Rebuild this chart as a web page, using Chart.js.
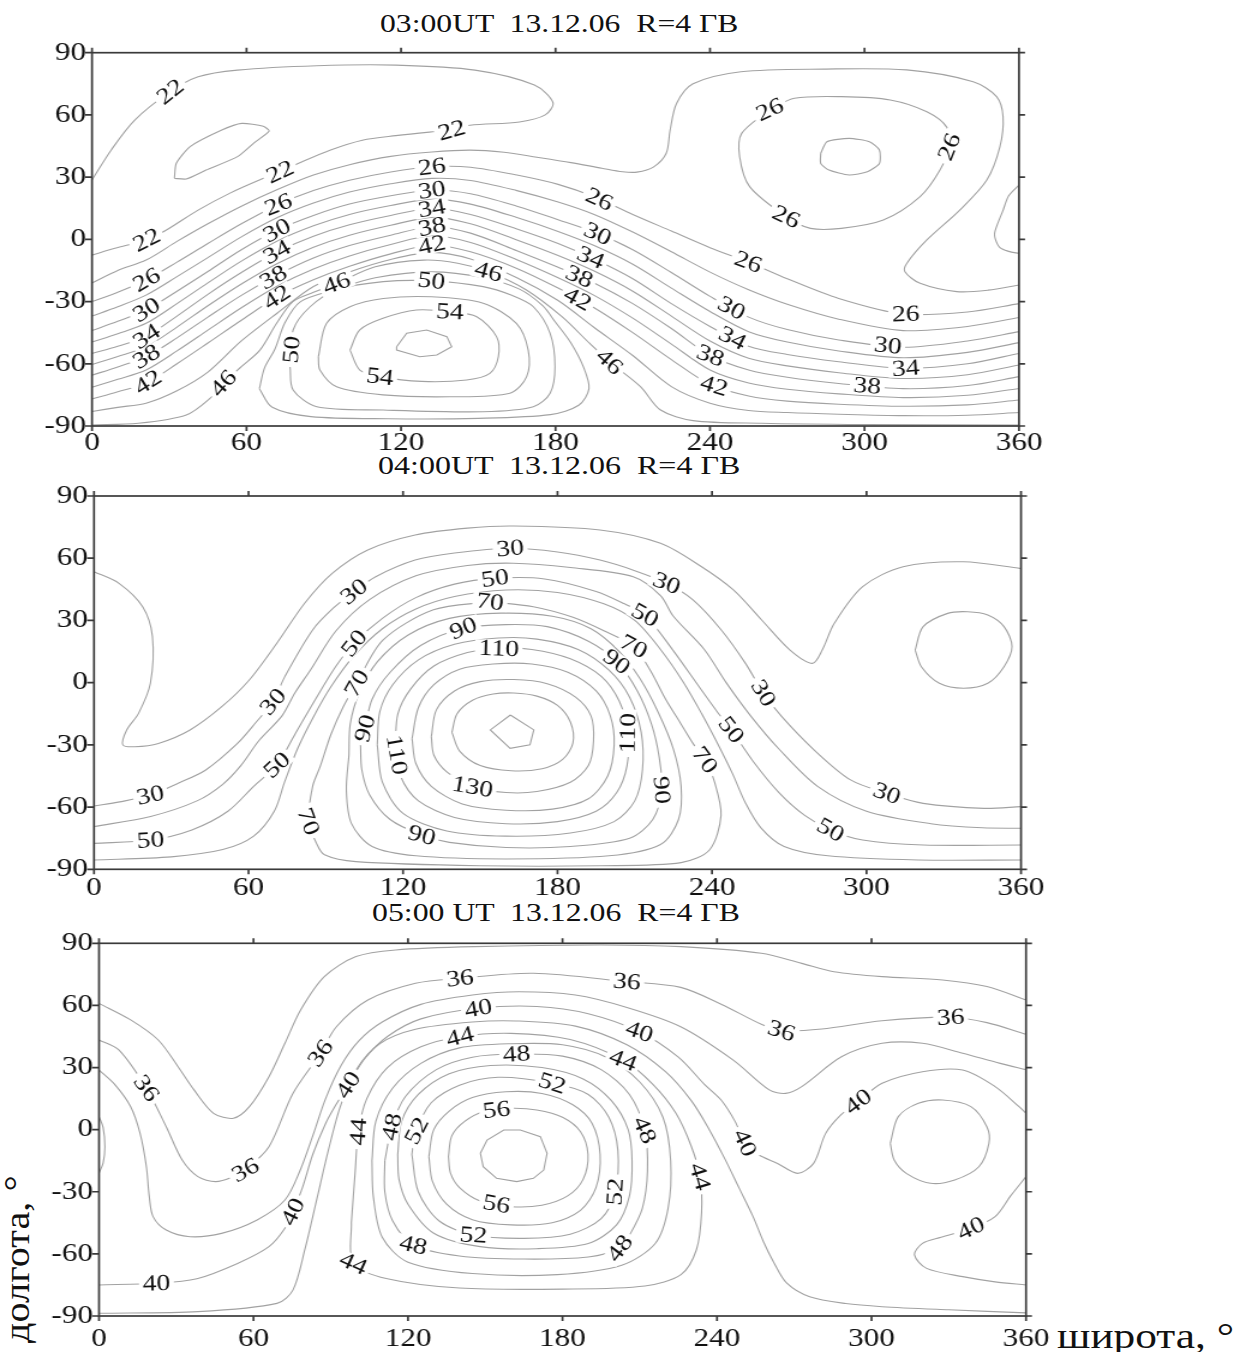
<!DOCTYPE html>
<html>
<head>
<meta charset="utf-8">
<script src="https://cdn.jsdelivr.net/npm/chart.js@4.4.0/dist/chart.umd.min.js"></script>
<style>
  html, body { margin: 0; padding: 0; background: #fff; }
  body { width: 1234px; height: 1352px; position: relative; overflow: hidden; }
  canvas { position: absolute; left: 0; }
  .txt { position: absolute; font-family: "Liberation Serif", "Times New Roman", serif; color: #111;
         white-space: pre; line-height: 1; transform-origin: 0 0; }
</style>
</head>
<body>
<div class="txt" id="title1" style="left:380px;top:11px;font-size:26px">03:00UT  13.12.06  R=4 ГВ</div>
<div class="txt" id="title2" style="left:378px;top:453px;font-size:26px">04:00UT  13.12.06  R=4 ГВ</div>
<div class="txt" id="title3" style="left:372px;top:900px;font-size:26px">05:00 UT  13.12.06  R=4 ГВ</div>
<div class="txt" id="xTitle" style="left:1057px;top:1318px;font-size:36px">широта, °</div>
<div class="txt" id="yTitle" style="left:0px;top:1343px;font-size:35px">долгота, °</div>

<canvas id="panel1" width="1028" height="460" style="top:0px;width:1234px;height:460px"></canvas>
<canvas id="panel2" width="1028" height="460" style="top:455px;width:1234px;height:460px"></canvas>
<canvas id="panel3" width="1028" height="447" style="top:905px;width:1234px;height:447px"></canvas>

<script>
// ---- axis ticks ----
const lonTicks = [0, 60, 120, 180, 240, 300, 360];
const latTicks = [-90, -60, -30, 0, 30, 60, 90];

// ---- 03:00 UT contours, [longitude, latitude] ----
const p1_20 = [[32,29.4],[36.6,29.1],[44.3,33.4],[56.5,39.9],[62.7,46.3],[68.8,52.2],[66.5,54.5],[58.1,55.9],[50.4,52.7],[38.1,44.7],[32.7,36.6],[32,29.4]];
const p1_22a = [[0,28.6],[7.4,43],[16.6,57.5],[30.4,71.2],[41.2,78.4],[56.5,81.6],[87.3,83.7],[118,84],[148.7,81.6],[171.8,74.4],[179,66],[176,60],[166,56.6],[146.8,55],[139.7,52.6],[131,51.7],[118,50],[105,47.8],[92.4,43],[81.4,37.3],[73,32.5],[65,28.6],[53.6,22.3],[41.2,14.1],[28.9,4.5],[21.2,-0.3],[8.9,-4.3],[0,-7.6]];
const p1_22b = [[360,26.2],[356,21],[353.8,14],[350.7,4],[350.7,0.6],[352.6,-4],[356,-5.8],[360,-6.8]];
const p1_24 = [[0,-21],[10,-15],[21,-10],[33,-1],[45,7.5],[58,16],[72,24],[86,31],[100,36],[116,40],[132,42.1],[146.8,43],[160,42],[172.8,39.6],[186,37],[198,34.3],[206,32.6],[211.6,32.4],[218,34.8],[223,41.5],[224.5,52.6],[227,65.5],[233.4,75],[252,80.8],[284,82.1],[316.4,81.7],[342.2,76],[351.3,68.8],[353.8,59.1],[352.6,44.7],[347.5,28.6],[337,14.1],[324.2,-0.3],[316.4,-11.6],[315.7,-15.6],[321.6,-21.2],[335.8,-25.2],[348,-24.5],[360,-22]];
const p1_26 = [[0,-30],[10,-25.5],[21,-19.6],[33,-11],[45,-2],[58,7.5],[72,16.6],[86,23.5],[100,28.5],[116,32.5],[132,35],[147,34.8],[165,31],[181,26.5],[195,20.5],[210,12],[225,4],[240,-4],[255,-11],[270,-19],[290,-28.5],[315,-36],[340,-35],[360,-31]];
const p1_26loop = [[263,62.4],[272.8,68],[291,68.8],[310,67.2],[324.2,61.5],[332,54],[333,45],[329.3,33.4],[321.6,20.6],[307.3,9.3],[291,5.3],[279,5.3],[269.6,10.9],[255.4,25.4],[251.5,39.9],[252.3,51.1],[263,62.4]];
const p1_28loop = [[283,41.5],[285.4,47.1],[294,48.7],[301.9,47.1],[305.8,43.1],[305.8,36.6],[301.1,32.6],[294,31],[286.2,33.4],[283,36.6],[283,41.5]];
const p1_28 = [[0,-37],[10,-32.5],[21,-26.9],[33,-18],[45,-8.8],[58,1.2],[72,10.5],[86,17.5],[100,22.8],[116,26.8],[132,29.4],[147,28.4],[165,23.5],[181,18],[195,12],[210,3.5],[225,-6],[240,-15.8],[255,-24.3],[270,-31.3],[290,-38.5],[315,-44],[340,-42],[360,-37.7]];
const p1_30 = [[0,-44],[10,-39.5],[21,-34.1],[33,-25],[45,-15.5],[58,-5],[72,4.5],[86,11.5],[100,17],[116,21],[132,23.8],[147,22],[165,16],[181,9.5],[195,3.5],[210,-5],[225,-16],[240,-27.5],[255,-37.5],[270,-43.5],[290,-48.5],[315,-52],[340,-49],[360,-44.5]];
const p1_32 = [[0,-49.5],[10,-45.5],[21,-40.5],[33,-31],[45,-21],[58,-10.5],[72,-0.8],[86,6.5],[100,12],[116,16.3],[132,19.4],[147,17],[165,10.5],[181,3.8],[195,-3],[210,-12],[225,-23.5],[240,-34.8],[255,-44.5],[270,-49.5],[290,-53.8],[315,-57.1],[340,-54.5],[360,-49.8]];
const p1_34 = [[0,-55],[10,-51.5],[21,-46.9],[33,-37],[45,-26.5],[58,-16],[72,-6],[86,1.5],[100,7],[116,11.5],[132,15],[147,12],[165,5],[181,-2],[195,-9.5],[210,-19],[225,-31],[240,-42],[255,-51.5],[270,-55.5],[290,-59],[315,-62.2],[340,-60],[360,-55]];
const p1_36 = [[0,-60.3],[10,-56.5],[21,-51.8],[33,-42.3],[45,-32],[58,-21.5],[72,-11.6],[86,-3.8],[100,2],[116,6.8],[132,10.6],[147,7.5],[165,-0.3],[181,-7.8],[195,-15.3],[210,-25],[225,-37],[240,-49],[255,-57.3],[270,-61],[290,-64.3],[315,-67.1],[340,-65.3],[360,-60.6]];
const p1_38 = [[0,-65.5],[10,-61.5],[21,-56.6],[33,-47.5],[45,-37.5],[58,-27],[72,-17.2],[86,-9],[100,-3],[116,2],[132,6.1],[147,3],[165,-5.5],[181,-13.5],[195,-21],[210,-31],[225,-43],[240,-56],[255,-63],[270,-66.5],[290,-69.5],[315,-72],[340,-70.5],[360,-66.2]];
const p1_40 = [[0,-71.3],[10,-67.5],[21,-63],[33,-53.8],[45,-43.8],[58,-33],[72,-22.5],[86,-14.3],[100,-8],[116,-2.5],[132,1.7],[147,-1.5],[165,-9.8],[181,-18.5],[195,-27],[210,-38],[225,-50.5],[240,-63],[255,-69.3],[270,-72.3],[290,-74.5],[315,-76.3],[340,-75.2],[360,-71.9]];
const p1_42 = [[0,-77],[10,-73.5],[21,-69.4],[33,-60],[45,-50],[58,-39],[72,-27.7],[86,-19.5],[100,-13],[116,-7],[132,-2.7],[147,-6],[165,-14],[181,-23.5],[195,-33],[210,-45],[225,-58],[240,-70],[255,-75.5],[270,-78],[290,-79.5],[315,-80.5],[340,-79.8],[360,-77.5]];
const p1_44 = [[0,-83],[10,-81],[21,-79],[33,-73],[45,-64],[58,-49],[72,-35.5],[86,-22.7],[100,-15.7],[116,-9.7],[132,-6.3],[147,-9.5],[165,-18.5],[181,-29.5],[195,-42.5],[210,-56],[225,-71],[240,-79],[255,-82.5],[270,-83.5],[290,-84.3],[315,-85],[340,-84.8],[360,-83.5]];
const p1_46 = [[0,-89.5],[18,-88.7],[36.6,-84.7],[45.8,-76.7],[51,-69.4],[58,-61.4],[65.2,-53.4],[71.7,-40.5],[78,-30],[86,-25.5],[95,-21.2],[110,-13.2],[128.8,-10],[142,-11.5],[154,-15.6],[168.7,-24.4],[182.5,-37.3],[193.3,-50.2],[201,-59],[213,-71],[220.8,-82.3],[233.4,-87.4],[260,-88.7],[300,-89.3],[360,-89.5]];
const p1_48 = [[65,-72],[67,-62],[71,-53],[75,-40],[81,-30],[95,-24],[110,-18.5],[132,-15.7],[152,-18.5],[166,-24],[175,-32],[180,-40],[186,-50],[191,-62],[193,-72],[189,-80],[178,-84.5],[150,-86.3],[115,-86.5],[85,-85.5],[70,-81],[65,-72]];
const p1_50 = [[76.9,-61.4],[78.1,-43.7],[84.7,-32.5],[95,-24.4],[113.1,-20.4],[131.8,-20],[151.9,-22.8],[163,-27],[171.4,-32.5],[177.9,-45.3],[179.8,-61.4],[177.9,-74.2],[171.4,-80.7],[151.9,-83.1],[113.1,-82.3],[87.3,-80.7],[78.1,-72.6],[76.9,-61.4]];
const p1_52 = [[87.9,-56.6],[91.1,-40.5],[100.2,-32.5],[113.1,-28.5],[131.8,-27.7],[151.9,-30.8],[164.8,-40.5],[169.4,-53.4],[168.8,-66.2],[162.3,-74.2],[139,-75.9],[113,-75],[95,-71.1],[88.5,-63],[87.9,-56.6]];
const p1_54 = [[100.2,-53.4],[104,-43.7],[113,-38.1],[126,-34.1],[139,-34.9],[149.4,-37.3],[157.1,-46.9],[157.8,-56.6],[154.5,-64.6],[145.5,-67.8],[128,-68.5],[111.8,-66.2],[104,-63],[100.2,-53.4]];
const p1_56 = [[118.3,-51.8],[122.2,-45.3],[130,-43.7],[137.8,-46.9],[139.7,-51.8],[133.9,-55.8],[127.3,-56.6],[118.3,-53.4],[118.3,-51.8]];
// label anchors: [level, longitude, latitude]
const p1Labels = [
  [22,30.4,71.2],[22,139.7,52.6],[22,73,32.5],[22,21.2,-0.3],
  [26,21.2,-19.6],[26,72.4,16.6],[26,132,35],[26,197.2,19.8],[26,254.6,-11.6],[26,316,-36.5],
  [26,263.3,62.4],[26,332.6,44.7],[26,269.6,10.9],
  [30,21.2,-34.1],[30,71.7,4.5],[30,132,23.8],[30,196.5,3],[30,248.3,-33.3],[30,309,-51.8],
  [34,21.2,-46.9],[34,71.7,-6],[34,132,15],[34,193.3,-10],[34,248.3,-48.5],[34,316,-62.2],
  [38,21.2,-56.6],[38,69.8,-17.2],[38,132,6.1],[38,189.5,-17.2],[38,239.7,-57.4],[38,301,-71.8],
  [42,22,-69.4],[42,71.7,-27.7],[42,132,-2.7],[42,188.7,-28.5],[42,241.3,-71.8],
  [46,51,-69.4],[46,95,-21.2],[46,154,-15.6],[46,201,-59],
  [50,131.8,-20.4],[50,79.5,-53.4],
  [54,139,-34.9],[54,111.8,-66.2]
];

// ---- 04:00 UT contours ----
const p2_20a = [[0,53.5],[9.7,47.9],[18.9,36.6],[22.7,22.2],[21.9,-0.3],[17.3,-14.8],[12.7,-22.8],[11.2,-30],[15.8,-30.9],[25,-29.3],[37.3,-22.8],[49.6,-11.6],[60.3,1.3],[71,19],[81.8,38.3],[92.5,52.7],[106.3,64],[124.7,71.2],[145,74.5],[163,75.5],[196.5,73.6],[220,67.2],[235.8,56],[248.3,44.7],[259.3,30.2],[270.3,15.7],[279,9.3],[282.8,15.7],[287.5,28.6],[298.5,46.3],[314.2,55.9],[337.7,58.3],[360,55]];
const p2_20b = [[318.9,15.7],[322,27],[331.5,33.4],[339.3,34.2],[347.1,32.6],[353.4,27],[356.5,17.4],[353.4,7.7],[347.1,-0.3],[337.7,-2.7],[328.3,-0.3],[321.3,7.7],[318.9,15.7]];
const p2_30 = [[0,-59.5],[10,-57.5],[21.9,-54.2],[32.7,-48.5],[43.4,-42.1],[55.7,-29.3],[63,-19],[69.5,-9.2],[74.1,2.9],[84.9,25.4],[93,36],[101,43.9],[109.4,51.1],[124.7,59.1],[140,62.5],[161.6,64.8],[180,63],[196.5,59.1],[210,54],[222.4,47.9],[232.6,39.9],[243.6,25.4],[253,9.3],[260,-5.1],[267.1,-16.4],[279.7,-32.5],[293.8,-46.9],[307.9,-53.4],[322,-58.2],[345.6,-60.6],[360,-59.8]];
const p2_40 = [[0,-69.4],[22,-64.5],[40,-57],[50,-49],[57,-40],[64,-28],[73,-16],[78,-5],[84,6],[94,25],[107,40],[125,51.5],[145,56.5],[162.8,57.6],[185,55.5],[209.4,51.1],[220,42],[225,32],[237,16],[245.5,0],[255,-16],[266,-32],[281,-50],[300,-62],[325,-68],[345,-70],[360,-70.2]];
const p2_50 = [[0,-77.5],[21.9,-75.9],[38,-71],[52,-62],[62,-50],[71,-39.7],[78,-25],[86,-8],[94,8],[101,19],[112,31],[125,41],[140,47.5],[155.7,50.3],[175,50],[195,44],[206,38],[214,32.6],[224.8,15.7],[235,-2],[242,-14],[247.5,-22.8],[256,-38],[266,-53],[276,-64],[286,-71],[298.5,-75.9],[322,-78.3],[360,-78.3]];
const p2_60 = [[0,-85.5],[30,-84],[50,-80.5],[62,-74],[70,-62],[74,-48],[79,-32],[85,-17],[92,-2],[101,13],[112,26],[125,35.5],[140,41.5],[160,44.7],[180,43.5],[198,38],[210,30],[220,16],[229,0],[236,-15],[242,-29],[248,-44],[253,-58],[259,-70],[268,-79],[285,-83.5],[320,-85.5],[360,-85.5]];
const p2_70 = [[153.8,39],[170.6,36.6],[186,31.5],[198,25],[209.6,17.4],[216,6],[222,-8],[228,-20],[233,-30],[237.3,-37.3],[241,-48],[243.5,-64],[239,-80.7],[228,-86.8],[196.5,-88.3],[150,-88.3],[101.7,-86.3],[89.5,-83],[86.4,-77.5],[83.3,-67],[84.9,-50],[87.8,-40.5],[92,-25],[96.8,-11.6],[102,-0.3],[112.3,20.6],[131.8,35.1],[153.8,39]];
const p2_80 = [[99,-35],[99.5,-20],[103,-5],[110,10],[122,23],[138,31],[158,33.5],[178,32],[193,26],[204,15],[212,2],[219,-14],[225,-32],[228,-50],[227,-66],[220,-78],[200,-83.5],[160,-85],[125,-83.5],[108,-79],[100,-68],[98,-52],[99,-35]];
const p2_90 = [[103.5,-30],[105.2,-22],[108,-8],[115,5],[127,18],[143.4,26.2],[160,28],[176,27],[192,20],[203,10.1],[211,-4],[216.5,-20],[219.5,-36],[220.5,-51.8],[217,-66],[208,-75],[185,-79],[160,-79.5],[138,-77],[127.3,-73.5],[115,-66],[107,-54],[104,-42],[103.5,-30]];
const p2_100 = [[110,-30],[111,-14],[116,-1],[126,11],[140,18.5],[157,21.5],[172,21],[188,16],[200,6],[208,-7],[212.5,-24],[213,-42],[210,-57],[202,-67],[185,-72.5],[160,-74],[137,-71.5],[120,-63],[112,-48],[110,-30]];
const p2_110 = [[117,-30],[118,-15],[123,-3],[132,8],[145,14.5],[157,16.5],[170,16],[185,11.5],[197,3],[204,-9],[207.3,-24],[207,-40],[203,-53],[195,-62],[180,-67],[160,-68],[140,-65],[126,-57],[119,-45],[117,-30]];
const p2_120 = [[123.5,-27],[126,-12],[132,-1],[142,6.5],[155,9],[170,9],[184,5],[195,-4],[200.5,-16],[202,-30],[199.5,-45],[192,-56],[178,-61],[160,-61.5],[143,-58.5],[131,-50],[125,-39],[123.5,-27]];
const p2_130 = [[131,-26],[133,-13],[140,-4],[150,0.5],[163,1.5],[176,-0.5],[187,-7],[193,-16],[194,-28],[192,-40],[185,-48],[172,-52.5],[160,-53],[147,-50.2],[137,-43],[132,-35],[131,-26]];
const p2_140 = [[139,-24],[141,-15],[147,-8.5],[155,-5.5],[163,-5],[172,-6.5],[180,-11],[185,-19],[186,-29],[182,-37],[174,-41.5],[162,-42.5],[150,-40],[142,-33],[139,-24]];
const p2_150 = [[161.7,-15.6],[170.8,-22.8],[169.3,-30],[161.6,-31.7],[153.9,-22.8],[161.7,-15.6]];
const p2Labels = [
  [30,101,43.9],[30,69.5,-9.2],[30,21.9,-54.2],[30,161.6,64.8],[30,222.4,47.9],[30,260,-5.1],[30,307.9,-53.4],
  [50,21.9,-75.9],[50,71,-39.7],[50,101,19],[50,155.7,50.3],[50,214,32.6],[50,247.5,-22.8],[50,286,-71],
  [70,102,-0.3],[70,83.3,-67],[70,153.8,39],[70,209.6,17.4],[70,237.3,-37.3],
  [90,143.4,26.2],[90,203,10.1],[90,105.2,-22],[90,220.5,-51.8],[90,127.3,-73.5],
  [110,157.2,16.5],[110,117,-34.9],[110,207.1,-24.4],
  [130,147,-50.2]
];

// ---- 05:00 UT contours ----
const p3_34 = [[0,61],[12.3,53],[23,43.3],[30.7,30.4],[36.9,19.2],[44.5,7.9],[52.2,5.5],[58.4,11.1],[66,25.6],[72.2,41.7],[78.3,57.8],[87.5,73.9],[99.8,83.6],[115.2,86.8],[145.9,88.4],[194.6,89.2],[226,88.4],[257.2,85.2],[272.9,80.3],[285.4,76.3],[304.1,73.9],[327.6,72.3],[344.8,69.1],[360,62.6]];
const p3_36 = [[0,43.3],[7.7,38.5],[18.4,20],[26.1,1.4],[32.3,-14.7],[38.4,-22.7],[45.3,-25.1],[52.2,-22.7],[56.8,-19.5],[66,-8.2],[75.3,17.5],[86,36.9],[92.2,49.7],[104.4,62.6],[122.9,70.7],[140.2,73.1],[168.7,75.5],[205,71.5],[225.9,68.7],[241.6,60.6],[257.2,50.9],[265,47.8],[280.7,48.6],[304.1,52.6],[330.7,54.3],[344.8,51.7],[360,46.1]];
const p3_38 = [[0,28.8],[6,22],[12.3,11.1],[16,-2],[18.4,-17.9],[19.5,-32],[21,-42],[26.1,-48.5],[35.3,-51.7],[47.6,-50.1],[61.4,-43.6],[72.2,-34],[78,-20],[83,-3],[88,15],[94,31],[101,43],[110,52],[125,60.5],[145,65],[163,66.6],[185,65],[205,59],[225.9,49.7],[246.3,33.6],[260.3,19.2],[266.6,17.5],[272.9,20.8],[288.5,35.3],[304.1,41.7],[319.8,41.7],[335.4,36.9],[350,32],[360,29]];
const p3_40a = [[0,-75],[22.3,-74.2],[38,-72],[53.8,-64.6],[66,-56.5],[72,-48],[75.3,-39.6],[79,-28],[83,-12],[88,3],[92,12],[96.8,21.6],[103,34],[112,45],[125,53.5],[147.3,58.6],[170,59.5],[190,56],[209.9,47.3],[225,35],[235,22],[241.6,14.3],[247,4],[250.9,-6.4],[256,-12],[263.5,-16.3],[271.3,-21.1],[277.5,-16.3],[282.2,-1.8],[288,7],[294.8,13.5],[304.1,22.4],[319.8,28],[335.4,28.8],[348,20.8],[357.3,11.1],[360,7.9]];
const p3_40b = [[0,6.3],[1.6,1],[2.3,-8.2],[1.6,-16],[0,-21]];
const p3_40c = [[360,-22.7],[354,-32],[348,-42],[338.6,-47.7],[327,-52],[319.8,-54.9],[316.7,-60.5],[321.4,-67],[335.4,-71],[348,-73.5],[360,-75]];
const p3_42 = [[0,-88.7],[38.4,-87.9],[69.1,-83.9],[75.3,-77.5],[79.9,-58.1],[84.5,-34],[89.1,-9.8],[93.7,11.1],[99.8,28.8],[109,41.5],[122.9,48.5],[145,52],[162,52.5],[185,50],[205,41],[220,28],[230,14],[237,0],[243,-14],[248.5,-28],[254,-42],[258,-54],[262,-64],[267,-74],[276,-80.7],[290,-84],[304.1,-85.5],[330,-87],[360,-88.5]];
const p3_42circle = [[307.3,-6.6],[310.4,6.3],[318.2,12.7],[327.6,14.3],[338.6,11.1],[344.8,1.4],[345.6,-6.6],[341.7,-17.9],[332.3,-24.3],[322.9,-25.9],[313.5,-21.1],[308.8,-14.7],[307.3,-6.6]];
const p3_44 = [[98,-45],[99.5,-20],[100.7,-1],[104,15],[112,30],[125,40],[140.2,44.9],[160,46.5],[183,43.5],[203.5,33.6],[215,22],[224,8],[230,-8],[233.4,-22.7],[234,-40],[232,-58],[226,-70],[212,-75.5],[180,-77],[140,-76.5],[112,-72],[98.8,-64.6],[98,-45]];
const p3_46 = [[106,-15],[107.5,4],[114,20],[125,32],[140,39.5],[160,41.5],[180,41],[197,35],[210,23],[219,6],[222,-15],[221,-38],[216,-55],[203,-65.5],[178,-70],[145,-69.5],[120,-64],[110,-52],[106.5,-32],[106,-15]];
const p3_48 = [[111,-15],[113.7,1.4],[119,16],[131,29],[145,35],[162.2,36.5],[180,35.5],[195,29],[206,17],[211.9,-0.2],[213,-20],[211,-38],[206,-51],[202.2,-57.3],[190,-61.5],[165,-62.5],[140,-61],[122.1,-55.7],[114,-44],[111,-30],[111,-15]];
const p3_50 = [[116,-12],[117.5,4],[124,17],[136,27],[152,31],[172,30],[188,24.5],[199,14],[205.5,0],[207,-15],[206,-32],[201,-46],[190,-55],[170,-57.5],[148,-56.5],[130,-50],[120,-36],[116.5,-24],[116,-12]];
const p3_52 = [[121.5,-12],[122.8,-1.8],[129,13],[140,21.5],[155,25.3],[175.8,22.5],[190,17],[198,6],[201.5,-10],[200.4,-30],[195,-43],[183,-50.5],[165,-52.5],[145.4,-50.9],[132,-44],[124,-30],[121.5,-12]];
const p3_54 = [[128.1,-13],[130,0],[136,9],[145,15.5],[158,18.3],[172,17.5],[184,12],[191.5,3],[194.6,-12],[193,-28],[187,-39],[176,-45],[160,-46],[145,-43.5],[135,-36],[129.5,-25],[128.1,-13]];
const p3_56 = [[135.7,-13],[137,-3],[142,4],[150,9],[160,10.3],[170,9.5],[180,6],[187,-1],[189.9,-12],[188,-24],[182,-32],[172,-36.5],[160,-37.2],[148,-34.5],[140,-28],[136.5,-21],[135.7,-13]];
const p3_58 = [[148.1,-11.4],[150.7,-5],[157.2,-0.2],[163.6,-0.2],[171.4,-3.4],[174,-11.4],[172.7,-19.5],[168.7,-23.5],[162.2,-25.1],[154.4,-23.5],[149.2,-17.9],[148.1,-11.4]];
const p3Labels = [
  [36,18.4,20],[36,56.8,-19.5],[36,86,36.9],[36,140.2,73.1],[36,205,71.5],[36,265,47.8],[36,330.7,54.3],
  [40,22.3,-74.2],[40,75.3,-39.6],[40,96.8,21.6],[40,147.3,58.6],[40,209.9,47.3],[40,250.9,-6.4],[40,294.8,13.5],[40,338.6,-47.7],
  [44,100.7,-1],[44,98.8,-64.6],[44,140.2,44.9],[44,203.5,33.6],[44,233.4,-22.7],
  [48,113.7,1.4],[48,122.1,-55.7],[48,162.2,36],[48,211.9,-0.2],[48,202.2,-57.3],
  [52,125.3,-1.8],[52,145.4,-50.9],[52,175.8,21.6],[52,200.4,-30],
  [56,154.4,9.5],[56,154.4,-35.6]
];

// ---- level tables: [level, points, tension] ----
const panel1Lines = [[20,p1_20,0.2],[22,p1_22a],[22,p1_22b],[24,p1_24],[26,p1_26],[26,p1_26loop],[28,p1_28loop,0.2],
  [28,p1_28],[30,p1_30],[32,p1_32],[34,p1_34],[36,p1_36],[38,p1_38],[40,p1_40],[42,p1_42],[44,p1_44],
  [46,p1_46],[48,p1_48],[50,p1_50],[52,p1_52],[54,p1_54],[56,p1_56,0]];
const panel2Lines = [[20,p2_20a],[20,p2_20b],[30,p2_30],[40,p2_40],[50,p2_50],[60,p2_60],[70,p2_70],[80,p2_80],
  [90,p2_90],[100,p2_100],[110,p2_110],[120,p2_120],[130,p2_130],[140,p2_140],[150,p2_150,0]];
const panel3Lines = [[34,p3_34],[36,p3_36],[38,p3_38],[40,p3_40a],[40,p3_40b],[40,p3_40c],[42,p3_42],[42,p3_42circle],
  [44,p3_44],[46,p3_46],[48,p3_48],[50,p3_50],[52,p3_52],[54,p3_54],[56,p3_56],[58,p3_58,0]];

// ---- drawing ----
const S = 1234 / 1028;              // canvases are shown widened horizontally
const FONT = '"Liberation Serif", "Times New Roman", serif';
const LINE_COLOR = '#a2a2a2';
const FRAME_COLOR = '#3a3a3a';

function labelPlugin(table, items) {
  return {
    id: 'contourLabels',
    afterDatasetsDraw(chart) {
      const ctx = chart.ctx, xs = chart.scales.x, ys = chart.scales.y;
      const P = p => [xs.getPixelForValue(p[0]) * S, ys.getPixelForValue(p[1])];
      ctx.save();
      ctx.font = '23px ' + FONT;
      ctx.textAlign = 'center';
      ctx.textBaseline = 'middle';
      for (const [lvl, lon, lat] of items) {
        const q = P([lon, lat]);
        let best = { d: Infinity, x: q[0], y: q[1], a: 0 };
        for (const [l2, pts] of table) {
          if (l2 !== lvl) continue;
          for (let i = 0; i < pts.length - 1; i++) {
            const a = P(pts[i]), b = P(pts[i + 1]);
            const vx = b[0] - a[0], vy = b[1] - a[1];
            const len2 = vx * vx + vy * vy || 1;
            let t = ((q[0] - a[0]) * vx + (q[1] - a[1]) * vy) / len2;
            t = Math.max(0, Math.min(1, t));
            const cx = a[0] + t * vx, cy = a[1] + t * vy;
            const d = Math.hypot(q[0] - cx, q[1] - cy);
            if (d < best.d) best = { d, x: cx, y: cy, a: Math.atan2(vy, vx) };
          }
        }
        let ang = best.a;
        if (ang > Math.PI / 2) ang -= Math.PI;
        if (ang <= -Math.PI / 2) ang += Math.PI;
        const txt = String(lvl);
        ctx.save();
        ctx.translate(best.x / S, best.y);
        ctx.scale(1 / S, 1);
        ctx.rotate(ang);
        ctx.scale(S, 1);
        const w = ctx.measureText(txt).width;
        ctx.fillStyle = '#fff';
        ctx.fillRect(-w / 2 - 3, -8.5, w + 6, 17);
        ctx.fillStyle = '#111';
        ctx.fillText(txt, 0, 1);
        ctx.restore();
      }
      ctx.restore();
    }
  };
}

const framePlugin = {
  id: 'frame',
  afterDraw(chart) {
    const ctx = chart.ctx, a = chart.chartArea, xs = chart.scales.x, ys = chart.scales.y;
    ctx.save();
    ctx.strokeStyle = FRAME_COLOR;
    ctx.lineWidth = 1.7;
    ctx.strokeRect(a.left, a.top, a.right - a.left, a.bottom - a.top);
    ctx.beginPath();
    for (const v of lonTicks) {
      const px = xs.getPixelForValue(v);
      ctx.moveTo(px, a.top); ctx.lineTo(px, a.top - 5);
      ctx.moveTo(px, a.bottom); ctx.lineTo(px, a.bottom + 5);
    }
    for (const v of latTicks) {
      const py = ys.getPixelForValue(v);
      ctx.moveTo(a.left, py); ctx.lineTo(a.left - 7 / S, py);
      ctx.moveTo(a.right, py); ctx.lineTo(a.right + 6 / S, py);
    }
    ctx.stroke();
    ctx.restore();
  }
};

function drawPanel(id, table, items, geo) {
  const canvas = document.getElementById(id);
  const H = canvas.height;
  const leftW = geo.left / S;
  const padRight = canvas.width - geo.right / S;
  const tickFont = { family: FONT, size: 26 };
  new Chart(canvas, {
    type: 'scatter',
    data: {
      datasets: table.map(([lvl, pts, tens]) => ({
        label: String(lvl),
        data: pts.map(([x, y]) => ({ x, y })),
        showLine: true,
        pointRadius: 0,
        pointHoverRadius: 0,
        borderColor: LINE_COLOR,
        borderWidth: 1.1,
        tension: tens === undefined ? 0.3 : tens,
        fill: false
      }))
    },
    options: {
      responsive: false,
      animation: false,
      devicePixelRatio: 1,
      events: [],
      layout: { padding: { left: 0, right: padRight, top: geo.top, bottom: 0 } },
      plugins: { legend: { display: false }, tooltip: { enabled: false } },
      scales: {
        x: {
          type: 'linear', min: 0, max: 360, position: 'bottom',
          ticks: { stepSize: 60, maxRotation: 0, autoSkip: false, padding: geo.xPad, color: '#111', font: tickFont },
          grid: { display: false, drawTicks: false },
          border: { display: false },
          afterFit(s) { s.height = H - geo.bottom; }
        },
        y: {
          type: 'linear', min: -90, max: 90, position: 'left',
          ticks: { stepSize: 30, padding: 6 / S, color: '#111', font: tickFont },
          grid: { display: false, drawTicks: false },
          border: { display: false },
          afterFit(s) { s.width = leftW; }
        }
      }
    },
    plugins: [labelPlugin(table, items), framePlugin]
  });
}

drawPanel('panel1', panel1Lines, p1Labels, { left: 92, right: 1019, top: 52.7, bottom: 426, xPad: 1.5 });
drawPanel('panel2', panel2Lines, p2Labels, { left: 94, right: 1021, top: 41, bottom: 414.3, xPad: 3.5 });
drawPanel('panel3', panel3Lines, p3Labels, { left: 99, right: 1026, top: 38.3, bottom: 411, xPad: 7.5 });

// widen the text blocks to their measured spans
function fitText(id, span, rotate) {
  const el = document.getElementById(id);
  const k = span / el.offsetWidth;
  el.style.transform = (rotate ? 'rotate(-90deg) ' : '') + 'scaleX(' + k.toFixed(3) + ')';
}
fitText('title1', 358);
fitText('title2', 362);
fitText('title3', 368);
fitText('xTitle', 177);
fitText('yTitle', 168, true);
</script>
</body>
</html>
